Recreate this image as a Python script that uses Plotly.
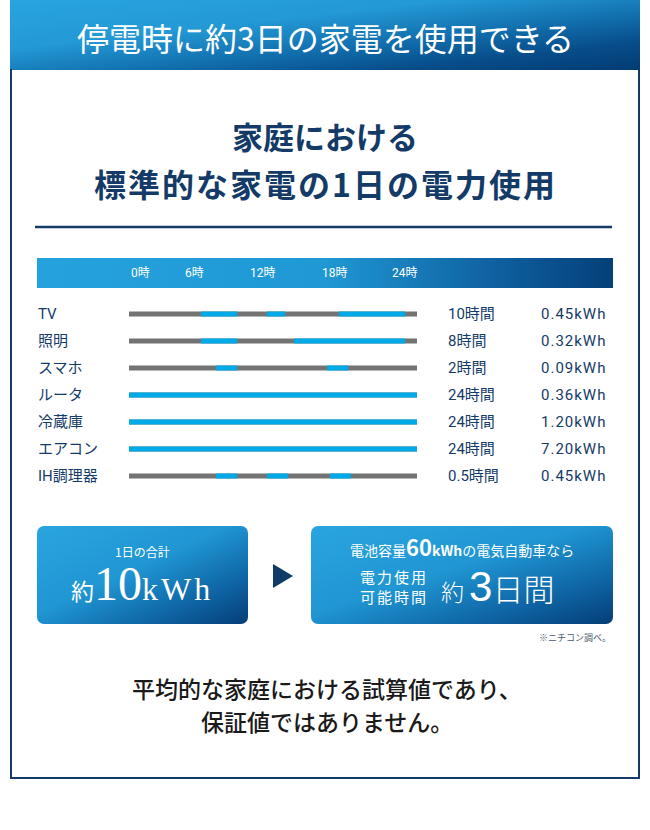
import base64
import plotly.graph_objects as go

# canvas (pixels)
W, H = 650, 830

# data
appliances = ["TV", "照明", "スマホ", "ルータ", "冷蔵庫", "エアコン", "IH調理器"]
usage_hours = ["10時間", "8時間", "2時間", "24時間", "24時間", "24時間", "0.5時間"]
usage_kwh = [0.45, 0.32, 0.09, 0.36, 1.20, 7.20, 0.45]
# time slots in use (hour of day, start/end)
usage_slots = [
    [(6, 9), (11.5, 13), (17.5, 23)],
    [(6, 9), (13.75, 23)],
    [(7.25, 9), (16.5, 18.25)],
    [(0, 24)],
    [(0, 24)],
    [(0, 24)],
    [(7.25, 9), (11.5, 13.25), (16.75, 18.5)],
]
hour_ticks = [0, 6, 12, 18, 24]
hour_tick_labels = ["0時", "6時", "12時", "18時", "24時"]
daily_total = "10"
battery_kwh = "60"
days_covered = "3"
footer_lines = ["平均的な家庭における試算値であり、", "保証値ではありません。"]

NAVY = "#143b68"
GRAY = "#737373"
BLUE = "#00a9e8"
JP = "Noto Sans CJK JP"


def px(x):
    return x / W


def py(y):
    return 1 - y / H


def gradient_image(x0, y0, x1, y1, stops, x2=1, y2=0, rx=0):
    '''
    gradient_image
    Builds a layout image holding an SVG gradient rectangle
    '''
    w, h = x1 - x0, y1 - y0
    stop_tags = "".join(
        f'<stop offset="{o}" stop-color="{c}"/>' for o, c in stops
    )
    svg = (
        f'<svg xmlns="http://www.w3.org/2000/svg" width="{w}" height="{h}" '
        f'viewBox="0 0 {w} {h}"><defs><linearGradient id="g" x1="0" y1="0" '
        f'x2="{x2}" y2="{y2}">{stop_tags}</linearGradient></defs>'
        f'<rect width="{w}" height="{h}" rx="{rx}" ry="{rx}" fill="url(#g)"/></svg>'
    )
    src = "data:image/svg+xml;base64," + base64.b64encode(svg.encode()).decode()
    return dict(source=src, xref="paper", yref="paper",
                x=px(x0), y=py(y0), sizex=w / W, sizey=h / H,
                xanchor="left", yanchor="top", sizing="stretch", layer="below")


fig = go.Figure()

# gray base lines, then blue usage slots on top
for i, slots in enumerate(usage_slots):
    fig.add_trace(go.Scatter(
        x=[hour_ticks[0], hour_ticks[-1]], y=[i, i], mode="lines",
        line=dict(color=GRAY, width=5), hoverinfo="skip", showlegend=False))
    xs, ys = [], []
    for start, end in slots:
        xs += [start, end, None]
        ys += [i, i, None]
    fig.add_trace(go.Scatter(
        x=xs, y=ys, mode="lines",
        line=dict(color=BLUE, width=5), hoverinfo="skip", showlegend=False))

annotations = []

# header
annotations.append(dict(
    text="停電時に約3日の家電を使用できる", x=px(326), y=py(37),
    font=dict(family=JP, size=32, color="white")))

# title
annotations.append(dict(
    text="家庭における", x=px(325), y=py(136),
    font=dict(family=JP, size=31, color=NAVY, weight="bold")))
annotations.append(dict(
    text='<span style="letter-spacing:2px">標準的な家電の1日の電力使用</span>',
    x=px(325), y=py(183),
    font=dict(family=JP, size=32, color=NAVY, weight="bold")))

# hour ticks on the band
for h, lab in zip(hour_ticks, hour_tick_labels):
    first = h == hour_ticks[0]
    annotations.append(dict(
        text=lab, x=h, xref="x", y=py(273),
        xanchor="left" if first else "right",
        xshift=0 if first else (3 if h == hour_ticks[-1] else 5),
        font=dict(family="Roboto, " + JP, size=12, color="white")))

# row texts
for i, name in enumerate(appliances):
    annotations.append(dict(
        text=name, x=px(36), y=i, yref="y", xanchor="left",
        font=dict(family="Roboto, " + JP, size=15, color=NAVY)))
    annotations.append(dict(
        text=usage_hours[i], x=px(446), y=i, yref="y", xanchor="left",
        font=dict(family="Roboto, " + JP, size=15, color=NAVY)))
    annotations.append(dict(
        text=f'<span style="letter-spacing:1px">{usage_kwh[i]:.2f}kWh</span>',
        x=px(539), y=i, yref="y", xanchor="left",
        font=dict(family="Roboto, " + JP, size=15, color=NAVY)))

# box 1
annotations.append(dict(
    text="1日の合計", x=px(142), y=py(551),
    font=dict(family=JP, size=12, color="white")))
annotations.append(dict(
    text=(f'約<span style="font-family:\'Liberation Serif\';font-size:48px">{daily_total}</span>'
          '<span style="font-family:\'Liberation Serif\';font-size:32px;letter-spacing:3px">kWh</span>'),
    x=px(142), y=py(583),
    font=dict(family=JP, size=23, color="white")))

# box 2
annotations.append(dict(
    text=(f'電池容量<span style="font-size:22px;font-weight:bold">{battery_kwh}</span>'
          '<span style="font-weight:bold">kWh</span>の電気自動車なら'),
    x=px(462), y=py(546),
    font=dict(family=JP, size=14, color="white")))
annotations.append(dict(
    text='<span style="letter-spacing:2px">電力使用<br>可能時間</span>',
    x=px(394), y=py(586),
    font=dict(family=JP, size=15, color="white")))
annotations.append(dict(
    text=(f'約 <span style="font-family:\'Liberation Sans\';font-size:42px">{days_covered}</span>'
          '<span style="font-size:31px">日間</span>'),
    x=px(497), y=py(586),
    font=dict(family=JP, size=23, color="white", weight=300)))

annotations.append(dict(
    text="※ニチコン調べ。", x=px(613), y=py(637), xanchor="right",
    font=dict(family=JP, size=9, color="#4a5a70")))

# footer
for k, line in enumerate(footer_lines):
    annotations.append(dict(
        text=line, x=px(327), y=py(688 + 33 * k),
        font=dict(family=JP, size=23, color="#1a1a1a", weight=500)))

for a in annotations:
    a.setdefault("xref", "paper")
    a.setdefault("yref", "paper")
    a.setdefault("xanchor", "center")
    a["yanchor"] = "middle"
    a["showarrow"] = False

shapes = [
    # frame below the header
    dict(type="line", xref="paper", yref="paper", x0=px(11), x1=px(11),
         y0=py(69), y1=py(778), line=dict(color=NAVY, width=2)),
    dict(type="line", xref="paper", yref="paper", x0=px(639), x1=px(639),
         y0=py(69), y1=py(778), line=dict(color=NAVY, width=2)),
    dict(type="line", xref="paper", yref="paper", x0=px(10), x1=px(640),
         y0=py(778), y1=py(778), line=dict(color=NAVY, width=2)),
    # divider under the title
    dict(type="line", xref="paper", yref="paper", x0=px(35), x1=px(612),
         y0=py(227), y1=py(227), line=dict(color=NAVY, width=2.5)),
    # arrow between the boxes
    dict(type="path", xref="paper", yref="paper",
         path=f"M {px(273)},{py(564)} L {px(293)},{py(576)} L {px(273)},{py(588)} Z",
         fillcolor="#0f3a6a", line=dict(width=0)),
]

header_stops = [(0, "#28a4df"), (0.35, "#2399d5"), (0.6, "#126fae"), (0.8, "#074d8a"), (1, "#023c74")]
band_stops = [(0, "#25a2dd"), (0.5, "#1f98d4"), (0.8, "#0f5f9f"), (1, "#034079")]
box_stops = [(0, "#2aa5df"), (0.45, "#2096d3"), (0.75, "#0f66a6"), (1, "#043e77")]

images = [
    gradient_image(10, 0, 640, 70, header_stops, x2=1, y2=1),
    gradient_image(37, 258, 613, 288, band_stops, x2=1, y2=0),
    gradient_image(37, 526, 248, 624, box_stops, x2=1, y2=1, rx=7),
    gradient_image(311, 526, 613, 624, box_stops, x2=1, y2=1, rx=7),
]

fig.update_layout(
    width=W, height=H,
    margin=dict(l=0, r=0, t=0, b=0),
    paper_bgcolor="white", plot_bgcolor="rgba(0,0,0,0)",
    showlegend=False,
    xaxis=dict(domain=[px(129), px(417)], range=[0, 24], visible=False, fixedrange=True),
    yaxis=dict(domain=[py(489.5), py(300.5)], range=[6.5, -0.5], visible=False, fixedrange=True),
    annotations=annotations, shapes=shapes, images=images,
)

# drop the default page margin so the figure sits at the window's corner
fig.write_html("out.html", config={"displayModeBar": False},
               post_script="document.body.style.margin='0';")
